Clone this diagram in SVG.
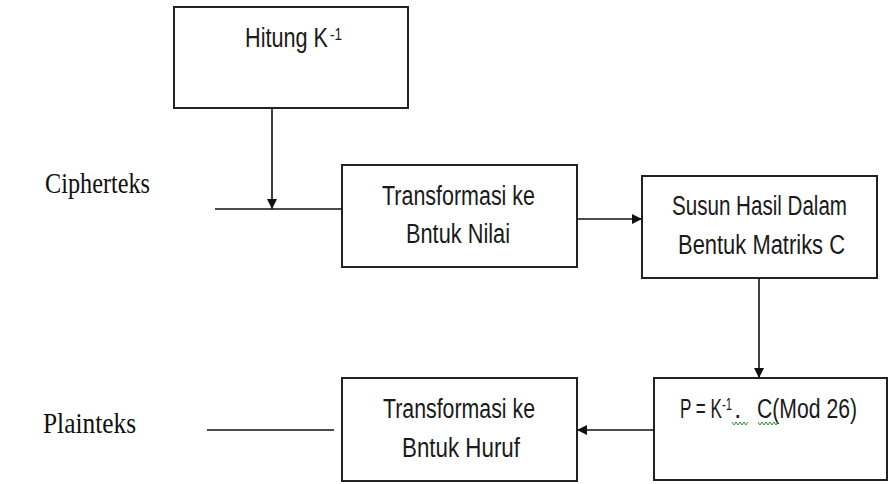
<svg xmlns="http://www.w3.org/2000/svg" width="890" height="484" viewBox="0 0 890 484">
  <style>
    .box { fill: #ffffff; stroke: #222222; stroke-width: 2; }
    .lbl { font-family: "Liberation Sans Narrow", "Liberation Sans", "Open Sans", sans-serif; font-size: 27px; fill: #1a1a1a; }
    .sup { font-size: 16px; }
    .side { font-family: "Liberation Serif", "DejaVu Serif", serif; font-size: 30px; fill: #111111; }
    .ln { stroke: #111111; stroke-width: 1.6; fill: none; }
    .sq { stroke: #2a9a2a; stroke-width: 1; fill: none; }
  </style>
  <defs>
    <marker id="arr" viewBox="0 0 10 10" refX="10" refY="5" markerWidth="11" markerHeight="10" markerUnits="userSpaceOnUse" orient="auto">
      <path d="M0,0 L10,5 L0,10 Z" fill="#111111"/>
    </marker>
  </defs>
  <rect width="890" height="484" fill="#ffffff"/>

  <text id="cipherteks" class="side" x="45" y="193" textLength="105" lengthAdjust="spacingAndGlyphs">Cipherteks</text>
  <text id="plainteks" class="side" x="43" y="433" textLength="93" lengthAdjust="spacingAndGlyphs">Plainteks</text>

  <g id="hitung">
    <rect class="box" x="174" y="7" width="234" height="101"/>
    <text class="lbl" x="245" y="47"><tspan textLength="83" lengthAdjust="spacingAndGlyphs">Hitung K</tspan><tspan class="sup" x="330" y="40" textLength="12" lengthAdjust="spacingAndGlyphs">-1</tspan></text>
  </g>

  <g id="transform-nilai">
    <rect class="box" x="342" y="165" width="235" height="102"/>
    <text class="lbl" x="382" y="205" textLength="153" lengthAdjust="spacingAndGlyphs">Transformasi ke</text>
    <text class="lbl" x="406" y="243" textLength="104" lengthAdjust="spacingAndGlyphs">Bntuk Nilai</text>
  </g>

  <g id="susun">
    <rect class="box" x="642" y="176" width="235" height="102"/>
    <text class="lbl" x="672" y="215" textLength="175" lengthAdjust="spacingAndGlyphs">Susun Hasil Dalam</text>
    <text class="lbl" x="678" y="254" textLength="167" lengthAdjust="spacingAndGlyphs">Bentuk Matriks C</text>
  </g>

  <g id="rumus">
    <rect class="box" x="654" y="378" width="233" height="102"/>
    <text class="lbl" x="680" y="418"><tspan textLength="42" lengthAdjust="spacingAndGlyphs">P = K</tspan><tspan class="sup" x="722" y="410" textLength="10" lengthAdjust="spacingAndGlyphs">-1</tspan><tspan x="734" y="418">.</tspan><tspan x="757" y="418" textLength="100" lengthAdjust="spacingAndGlyphs">C(Mod 26)</tspan></text>
    <path class="sq" d="M732,422 l2,3 l2,-3 l2,3 l2,-3 l2,3 l2,-3 l2,3 l2,-3"/>
    <path class="sq" d="M758,422 l2,3 l2,-3 l2,3 l2,-3 l2,3 l2,-3 l2,3 l2,-3 l2,3 l2,-3"/>
  </g>

  <g id="transform-huruf">
    <rect class="box" x="342" y="378" width="235" height="103"/>
    <text class="lbl" x="383" y="418" textLength="152" lengthAdjust="spacingAndGlyphs">Transformasi ke</text>
    <text class="lbl" x="402" y="457" textLength="118" lengthAdjust="spacingAndGlyphs">Bntuk Huruf</text>
  </g>

  <g id="connectors">
    <line class="ln" x1="272" y1="108" x2="272" y2="209" marker-end="url(#arr)"/>
    <line class="ln" x1="215" y1="209" x2="342" y2="209"/>
    <line class="ln" x1="577" y1="219" x2="642" y2="219" marker-end="url(#arr)"/>
    <line class="ln" x1="759" y1="278" x2="759" y2="378" marker-end="url(#arr)"/>
    <line class="ln" x1="654" y1="430" x2="577" y2="430" marker-end="url(#arr)"/>
    <line class="ln" x1="207" y1="430" x2="334" y2="430"/>
  </g>
</svg>
